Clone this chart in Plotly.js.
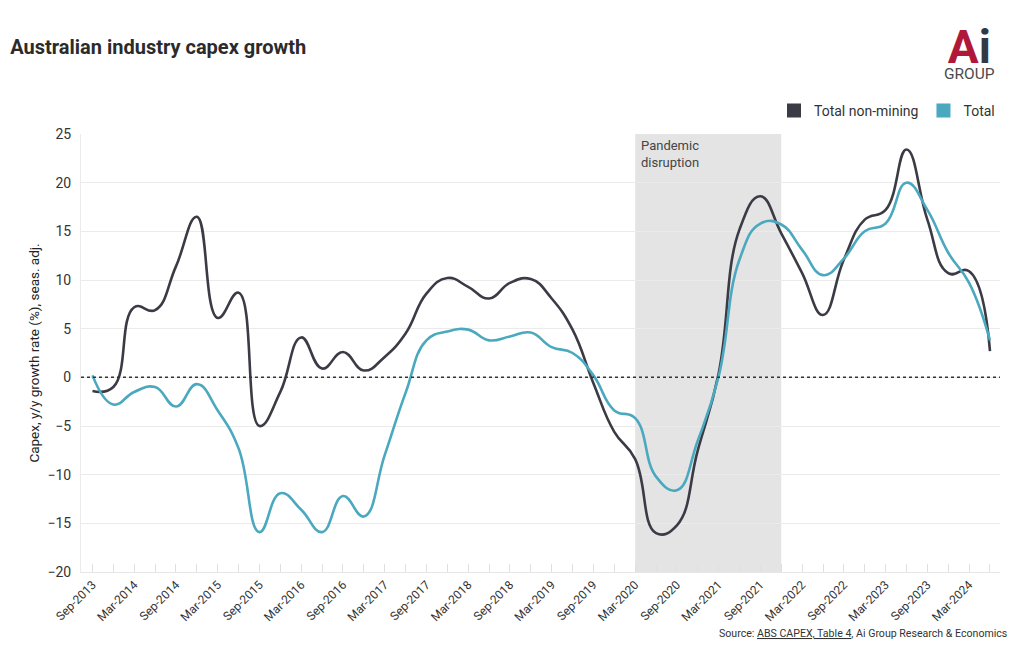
<!DOCTYPE html>
<html>
<head>
<meta charset="utf-8">
<script src="https://cdn.plot.ly/plotly-3.0.1.min.js"></script>
<style>
  html, body { margin: 0; padding: 0; background: #ffffff; }
  #chart { width: 1020px; height: 650px; }
</style>
</head>
<body>
<div id="chart"></div>
<script>
const quarters = ["Sep-2013","Dec-2013","Mar-2014","Jun-2014","Sep-2014","Dec-2014","Mar-2015","Jun-2015",
  "Sep-2015","Dec-2015","Mar-2016","Jun-2016","Sep-2016","Dec-2016","Mar-2017","Jun-2017",
  "Sep-2017","Dec-2017","Mar-2018","Jun-2018","Sep-2018","Dec-2018","Mar-2019","Jun-2019",
  "Sep-2019","Dec-2019","Mar-2020","Jun-2020","Sep-2020","Dec-2020","Mar-2021","Jun-2021",
  "Sep-2021","Dec-2021","Mar-2022","Jun-2022","Sep-2022","Dec-2022","Mar-2023","Jun-2023",
  "Sep-2023","Dec-2023","Mar-2024","Jun-2024"];

const nonMining = [-1.4,-1.0,7.2,6.9,11.4,16.5,6.1,8.7,-5.0,-1.5,4.1,0.9,2.6,0.7,2.1,4.5,
  8.6,10.2,9.3,8.1,9.7,10.1,8.1,4.9,-0.6,-5.6,-8.4,-16.0,-15.2,-7.5,0.4,15.2,
  18.6,14.8,10.7,6.4,12.1,16.2,17.2,23.4,16.2,10.7,10.9,2.7];

const total = [0.2,-2.8,-1.5,-1.0,-3.0,-0.7,-3.4,-7.3,-15.9,-11.9,-13.6,-15.9,-12.2,-14.3,-8.0,-1.6,
  3.8,4.7,4.9,3.8,4.2,4.6,3.1,2.5,0.2,-3.4,-4.2,-10.2,-11.6,-6.5,0.1,12.1,
  15.8,15.7,13.1,10.5,12.2,15.0,15.8,20.0,17.2,12.8,9.7,3.8];

const seriesNames = ["Total non-mining", "Total"];
const yTicks = [-20,-15,-10,-5,0,5,10,15,20,25];
const pandemicStart = "Mar-2020";
const pandemicEnd = "Dec-2021";
const pandemicLabel = "Pandemic<br>disruption";

const DARK = "#3b3b46";
const CYAN = "#4aa8bf";
const FONT = "Roboto, 'Noto Sans', sans-serif";

const idx = quarters.map((q, i) => i);
const tickText = quarters.map((q, i) => (i % 2 === 0 ? q : ""));

const traces = [
  { x: idx, y: nonMining, type: "scatter", mode: "lines", name: seriesNames[0],
    line: { color: DARK, width: 2.6, shape: "spline", smoothing: 1.3 }, showlegend: false,
    hovertemplate: "%{text}: %{y}<extra></extra>", text: quarters },
  { x: idx, y: total, type: "scatter", mode: "lines", name: seriesNames[1],
    line: { color: CYAN, width: 2.6, shape: "spline", smoothing: 1.3 }, showlegend: false,
    hovertemplate: "%{text}: %{y}<extra></extra>", text: quarters },
  { x: [null], y: [null], type: "scatter", mode: "markers", name: seriesNames[0],
    marker: { symbol: "square", size: 14, color: DARK } },
  { x: [null], y: [null], type: "scatter", mode: "markers", name: seriesNames[1],
    marker: { symbol: "square", size: 14, color: CYAN } }
];

const layout = {
  width: 1020, height: 650,
  paper_bgcolor: "#ffffff", plot_bgcolor: "#ffffff",
  font: { family: FONT, color: "#333333", size: 13 },
  margin: { l: 81, r: 20, t: 134, b: 78 },
  title: { text: "<b>Australian industry capex growth</b>", x: 0.01, xanchor: "left", y: 0.928, yanchor: "middle",
    font: { family: FONT, size: 20, color: "#2b2b2b" } },
  showlegend: true,
  legend: { orientation: "h", x: 1, xanchor: "right", y: 1.053, yanchor: "middle",
    font: { family: FONT, size: 14, color: "#333333" }, itemwidth: 30, traceorder: "normal",
    bgcolor: "rgba(0,0,0,0)" },
  xaxis: {
    range: [-0.55, 43.48], tickmode: "array", tickvals: idx, ticktext: tickText,
    tickangle: -45, ticks: "inside", ticklen: 8, tickcolor: "#e0e0e0", tickwidth: 1,
    tickfont: { family: FONT, size: 12, color: "#333333" },
    showgrid: false, zeroline: false, showline: true, linecolor: "#e6e6e6", linewidth: 1,
    fixedrange: true
  },
  yaxis: {
    range: [-20, 25], tickmode: "array", tickvals: yTicks,
    tickfont: { family: FONT, size: 14, color: "#333333" },
    showgrid: true, gridcolor: "#ebebeb", gridwidth: 1, zeroline: false,
    showline: true, linecolor: "#ebebeb", ticks: "", ticklabelstandoff: 6,
    title: { text: "Capex, y/y growth rate (%), seas. adj.", font: { family: FONT, size: 13.5, color: "#222222" }, standoff: 4 },
    fixedrange: true
  },
  shapes: [
    { type: "rect", xref: "x", yref: "paper", x0: quarters.indexOf(pandemicStart), x1: quarters.indexOf(pandemicEnd),
      y0: 0, y1: 1, fillcolor: "#e4e4e4", line: { width: 0 }, layer: "below" },
    { type: "line", xref: "paper", yref: "y", x0: 0, x1: 1, y0: 0, y1: 0,
      line: { color: "#333333", width: 1.5, dash: "dot" }, layer: "above" }
  ],
  annotations: [
    { xref: "x", yref: "paper", x: quarters.indexOf(pandemicStart), y: 0.995, xanchor: "left", yanchor: "top",
      xshift: 4, text: pandemicLabel, showarrow: false, align: "left",
      font: { family: FONT, size: 13, color: "#444444" } },
    { xref: "paper", yref: "paper", x: 1.0098, y: -0.12, xanchor: "right", yanchor: "top",
      text: "Source: <u>ABS CAPEX, Table 4</u>, Ai Group Research & Economics", showarrow: false,
      font: { family: FONT, size: 10.6, color: "#333333" } },
    { xref: "paper", yref: "paper", x: 0.9665, y: 1.188, xanchor: "center", yanchor: "middle",
      text: "<b><span style='color:#b0183a;font-size:46px'>A</span><span style='color:#2f3a45;font-size:46px'>i</span></b><br><span style='font-size:15.5px;color:#4a4a4a'>GROUP</span>",
      showarrow: false, align: "center",
      font: { family: FONT, size: 12 } }
  ]
};

Plotly.newPlot("chart", traces, layout, { displayModeBar: false, staticPlot: true });
</script>
</body>
</html>
